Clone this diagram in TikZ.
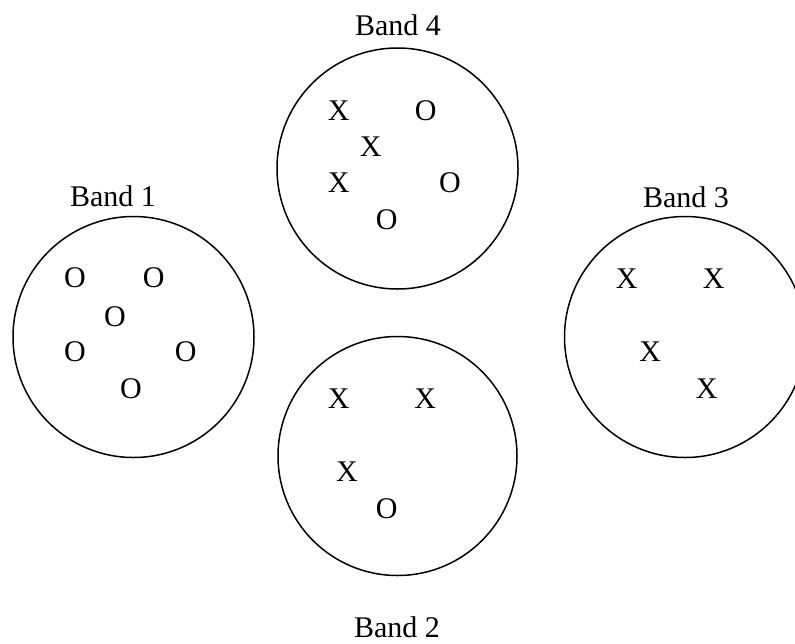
\documentclass[tikz,border=0pt]{standalone}
\usepackage{fontspec}
\setmainfont{Liberation Serif}
\begin{document}
\begin{tikzpicture}[x=1pt,y=-1pt,
  band/.style={circle,draw,line width=1.5pt,minimum size=241pt,inner sep=0pt},
  sym/.style={inner sep=0pt,anchor=center,font=\fontsize{30}{36}\selectfont},
  lbl/.style={inner sep=0pt,anchor=base,font=\fontsize{30}{36}\selectfont}]
\useasboundingbox (0,0) rectangle (795,643);
% circles
\node[band] (b4) at (397.5,168.5) {};
\node[band] (b1) at (133.5,337) {};
\node[band] (b3) at (685,337) {};
\node[band,minimum size=239pt] (b2) at (397.5,456) {};
% labels
\node[lbl] (l4) at (398,35) {Band 4};
\node[lbl] (l1) at (113,206) {Band 1};
\node[lbl] (l3) at (686,207) {Band 3};
\node[lbl] (l2) at (397,637) {Band 2};
% Band 4 contents
\node[sym] (b4x1) at (338.7,111) {X};
\node[sym] (b4o1) at (425.7,111) {O};
\node[sym] (b4x2) at (370.7,147) {X};
\node[sym] (b4x3) at (338.7,183) {X};
\node[sym] (b4o2) at (450,183) {O};
\node[sym] (b4o3) at (386.7,220) {O};
% Band 1 contents
\node[sym] (b1o1) at (75,278) {O};
\node[sym] (b1o2) at (153.7,278) {O};
\node[sym] (b1o3) at (115,316.7) {O};
\node[sym] (b1o4) at (75,352) {O};
\node[sym] (b1o5) at (185.7,352) {O};
\node[sym] (b1o6) at (131,388.7) {O};
% Band 3 contents
\node[sym] (b3x1) at (626.7,278.7) {X};
\node[sym] (b3x2) at (713.7,278.7) {X};
\node[sym] (b3x3) at (650.3,351.7) {X};
\node[sym] (b3x4) at (706.7,389) {X};
% Band 2 contents
\node[sym] (b2x1) at (338.7,399) {X};
\node[sym] (b2x2) at (425.3,399) {X};
\node[sym] (b2x3) at (347,471.7) {X};
\node[sym] (b2o1) at (386.7,509) {O};
\end{tikzpicture}
\end{document}
